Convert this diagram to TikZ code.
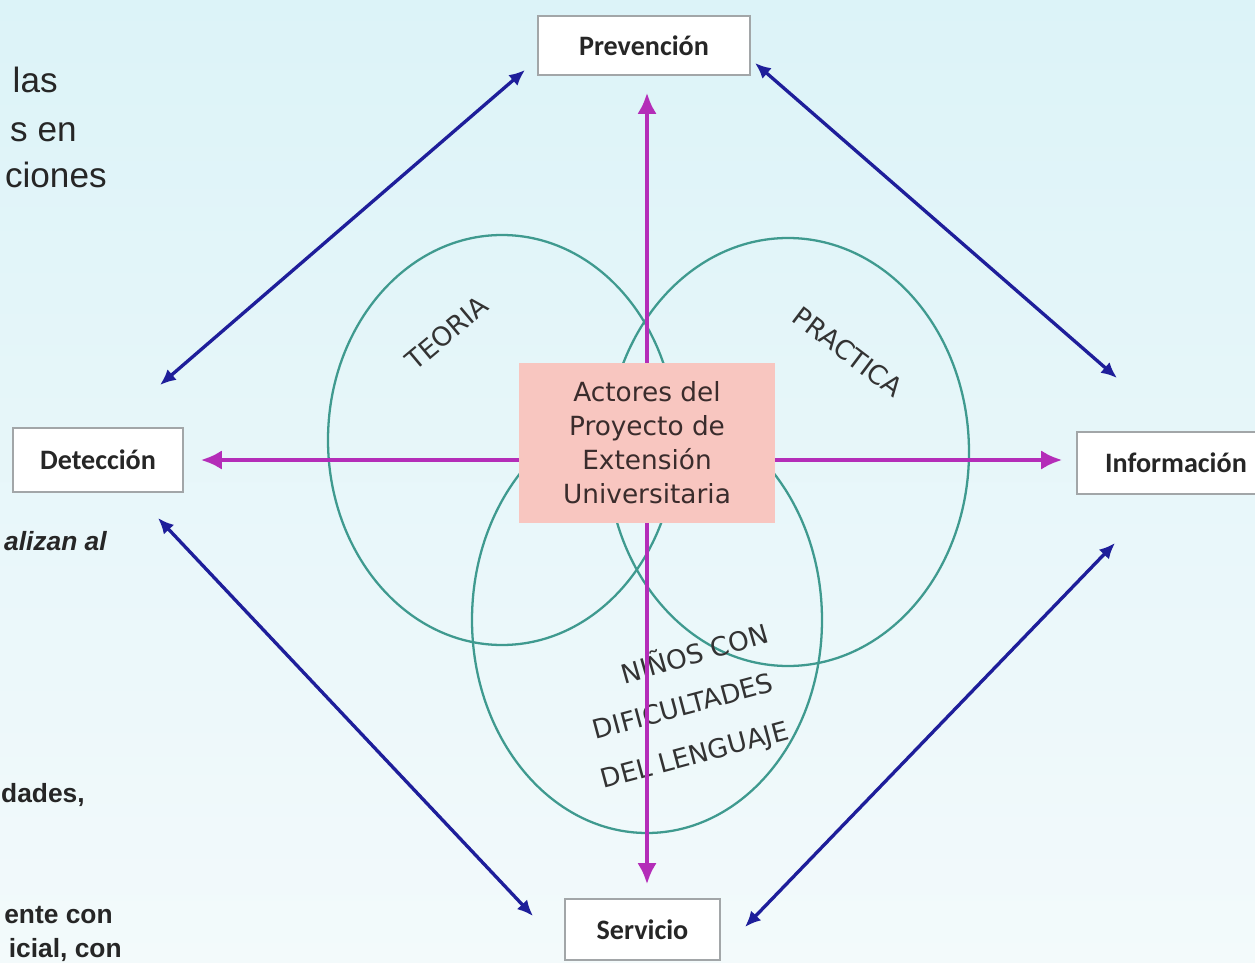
\documentclass[tikz,border=0pt]{standalone}
\usepackage{fontspec}
\setmainfont{DejaVu Sans}
\newfontfamily\cajafont{Carlito}
\newfontfamily\slidefont{Liberation Sans}
\usetikzlibrary{arrows.meta}

\definecolor{fondoA}{HTML}{DCF3F8}
\definecolor{fondoB}{HTML}{F3FAFB}
\definecolor{morado}{HTML}{B42DB8}
\definecolor{azul}{HTML}{1E1E9A}
\definecolor{verde}{HTML}{3F9A8F}
\definecolor{rosa}{HTML}{F8C6C0}
\definecolor{borde}{HTML}{A2A6A8}
\definecolor{texto}{HTML}{3A2C2C}

\begin{document}
\begin{tikzpicture}[x=0.02cm,y=-0.02cm,
  caja/.style={draw=borde,line width=0.8pt,fill=white,text=black!85,
    font=\cajafont\bfseries\fontsize{16}{18}\selectfont},
  flecha/.style={draw=morado,line width=2.6pt,-{Latex[length=12pt,width=11pt]}},
  doble/.style={draw=azul,line width=1.9pt,
    {Latex[length=9pt,width=8pt]}-{Latex[length=9pt,width=8pt]}},
  ovalo/.style={draw=verde,line width=1.3pt},
  rotulo/.style={text=black!80,font=\fontsize{15}{18}\selectfont},
  trozo/.style={anchor=base east,inner sep=0pt,text=black!85}]

\shade[top color=fondoA,bottom color=fondoB] (0,0) rectangle (1255,963);
\useasboundingbox (0,0) rectangle (1255,963);

% text cut off at the left edge of the slide
\node[trozo,font=\slidefont\fontsize{20}{24}\selectfont] (t1) at (58,93) {las};
\node[trozo,font=\slidefont\fontsize{20}{24}\selectfont] (t2) at (77,142) {s en};
\node[trozo,font=\slidefont\fontsize{20}{24}\selectfont] (t3) at (107,188) {ciones};
\node[trozo,font=\slidefont\bfseries\itshape\fontsize{15}{18}\selectfont] (t4) at (107,550) {alizan al};
\node[trozo,font=\slidefont\bfseries\fontsize{15}{18}\selectfont] (t5) at (85,802) {dades,};
\node[trozo,font=\slidefont\bfseries\fontsize{15}{18}\selectfont] (t6) at (113,923) {ente con};
\node[trozo,font=\slidefont\bfseries\fontsize{15}{18}\selectfont] (t7) at (122,957) {icial, con};

\draw[ovalo] (502,440) ellipse (174 and 205);
\draw[ovalo] (788,452) ellipse (181 and 214);
\draw[ovalo] (647,620) ellipse (175 and 213);

\node[rotulo,rotate=40] (teo) at (447,333) {TEORIA};
\node[rotulo,rotate=-37] (pra) at (848,352) {PRACTICA};
\node[rotulo,rotate=16] (nin1) at (694,652) {NIÑOS CON};
\node[rotulo,rotate=15] (nin2) at (683,706) {DIFICULTADES};
\node[rotulo,rotate=15] (nin3) at (695,757) {DEL LENGUAJE};

\node[fill=rosa,minimum width=5.12cm,minimum height=3.2cm,align=center,text=texto,
  font=\fontsize{15}{19.3}\selectfont] (actor) at (647,443)
  {Actores del\\Proyecto de\\Extensión\\Universitaria};

\node[caja,minimum width=4.24cm,minimum height=1.18cm] (prev) at (644,45.5) {Prevención};
\node[caja,minimum width=3.4cm,minimum height=1.28cm] (det) at (98,460) {Detección};
\node[caja,minimum width=3.96cm,minimum height=1.24cm] (info) at (1176,463) {Información};
\node[caja,minimum width=3.1cm,minimum height=1.22cm] (serv) at (642.5,929.5) {Servicio};

\draw[flecha,shorten >=0.34cm] (actor.north) -- (actor.north |- prev.south);
\draw[flecha,shorten >=0.28cm] (actor.south) -- (actor.south |- serv.north);
\draw[flecha,shorten >=0.34cm] (actor.west |- det.east) -- (det.east);
\draw[flecha,shorten >=0.28cm] (actor.east |- det.east) -- (info.west |- det.east);

\coordinate (a1) at (160,385);
\coordinate (a2) at (525,70);
\coordinate (b1) at (755,63);
\coordinate (b2) at (1117,378);
\coordinate (c1) at (158,518);
\coordinate (c2) at (533,916);
\coordinate (d1) at (745,927);
\coordinate (d2) at (1115,543);
\draw[doble] (a1) -- (a2);
\draw[doble] (b1) -- (b2);
\draw[doble] (c1) -- (c2);
\draw[doble] (d1) -- (d2);

\end{tikzpicture}
\end{document}
